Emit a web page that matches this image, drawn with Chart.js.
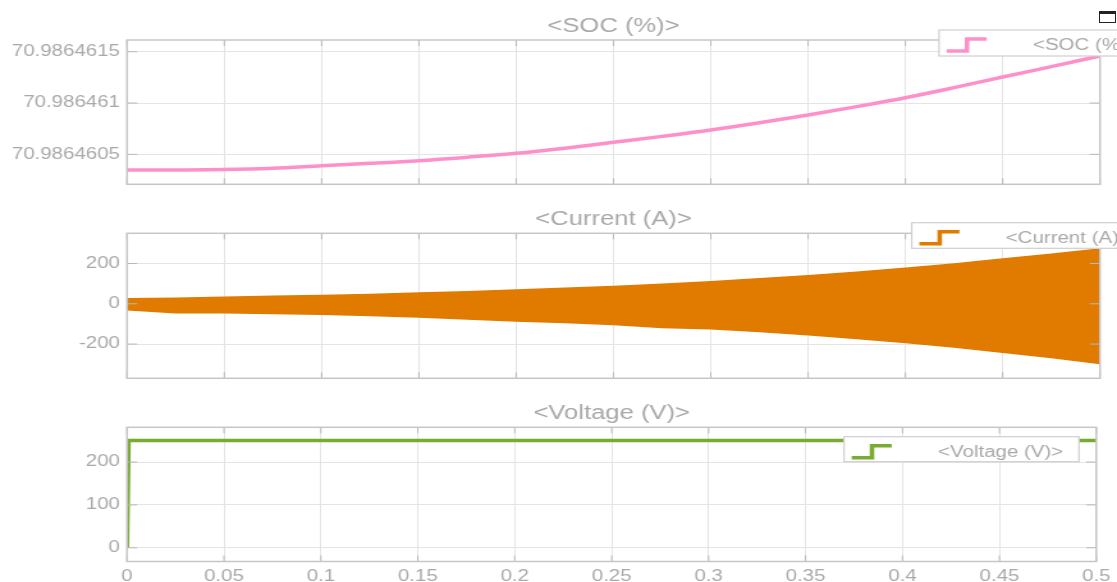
<!DOCTYPE html>
<html>
<head>
    <title>SOC / Current / Voltage</title>
    <script src="https://cdn.jsdelivr.net/npm/chart.js"></script>
    <style>
        body {
            margin: 0;
            background: #ffffff;
        }
        .panel {
            position: absolute;
            left: 0;
        }
        .dock-icon {
            position: absolute;
            left: 1099px;
            top: 11px;
            width: 15px;
            height: 8px;
            border: 1.5px solid #222;
            border-top-width: 3px;
            background: #fff;
        }
    </style>
</head>
<body>
    <div class="panel" style="top:0px">
        <canvas id="socChart" width="873" height="195" style="width:1117px;height:195px"></canvas>
    </div>
    <div class="panel" style="top:195px">
        <canvas id="currentChart" width="873" height="195" style="width:1117px;height:195px"></canvas>
    </div>
    <div class="panel" style="top:390px">
        <canvas id="voltageChart" width="873" height="192" style="width:1117px;height:192px"></canvas>
    </div>
    <div class="dock-icon"></div>
    <script>
        const timeTicks = [0, 0.05, 0.1, 0.15, 0.2, 0.25, 0.3, 0.35, 0.4, 0.45, 0.5];
        const timeTickLabels = ['0', '0.05', '0.1', '0.15', '0.2', '0.25', '0.3', '0.35', '0.4', '0.45', '0.5'];

        const socTime = [0, 0.025, 0.05, 0.075, 0.1, 0.125, 0.15, 0.175, 0.2, 0.225, 0.25,
                         0.275, 0.3, 0.325, 0.35, 0.375, 0.4, 0.425, 0.45, 0.475, 0.5];
        const socValues = [70.986460347, 70.986460348, 70.986460352, 70.986460365, 70.986460389,
                           70.986460412, 70.986460438, 70.986460472, 70.98646051, 70.98646056,
                           70.986460617, 70.986460675, 70.986460737, 70.986460808, 70.986460883,
                           70.986460965, 70.986461052, 70.98646115, 70.986461253, 70.986461355,
                           70.986461458];
        const socTicks = [70.9864605, 70.986461, 70.9864615];
        const socTickLabels = ['70.9864605', '70.986461', '70.9864615'];

        // current oscillates too fast to resolve, so the band is drawn from its envelope
        const currentTime = [0, 0.025, 0.05, 0.075, 0.1, 0.125, 0.15, 0.175, 0.2, 0.225, 0.25,
                             0.275, 0.3, 0.325, 0.35, 0.375, 0.4, 0.425, 0.45, 0.475, 0.5];
        const currentUpper = [25, 28, 33, 37, 41, 46, 53, 60, 69, 77, 86,
                              97, 110, 124, 139, 157, 177, 198, 222, 246, 272];
        const currentLower = [-30, -45, -45, -48, -52, -58, -65, -75, -86, -93, -103,
                              -118, -124, -138, -154, -172, -192, -215, -241, -267, -296];
        const currentTicks = [-200, 0, 200];
        const currentTickLabels = ['-200', '0', '200'];

        const voltageTime = [0, 0.0008, 0.5];
        const voltageValues = [0, 250, 250];
        const voltageTicks = [0, 100, 200];
        const voltageTickLabels = ['0', '100', '200'];

        const SX = 1117 / 873;
        const textColor = '#a9a9a9';
        const gridColor = '#e4e4e4';
        const fontFamily = '"Liberation Sans", Arial, sans-serif';

        Chart.defaults.font.family = fontFamily;
        Chart.defaults.color = textColor;

        const panelDecor = {
            id: 'panelDecor',
            afterDraw(chart, args, opts) {
                const ctx = chart.ctx;
                const a = chart.chartArea;
                const xs = chart.scales.x;
                const ys = chart.scales.y;
                ctx.save();

                ctx.strokeStyle = '#b8b8b8';
                ctx.lineWidth = 1;
                ctx.beginPath();
                xs.ticks.forEach(t => {
                    const px = xs.getPixelForValue(t.value);
                    ctx.moveTo(px, a.bottom);
                    ctx.lineTo(px, a.bottom - 6);
                    ctx.moveTo(px, a.top);
                    ctx.lineTo(px, a.top + 6);
                });
                ys.ticks.forEach(t => {
                    const py = ys.getPixelForValue(t.value);
                    ctx.moveTo(a.left, py);
                    ctx.lineTo(a.left + 8, py);
                    ctx.moveTo(a.right, py);
                    ctx.lineTo(a.right - 8, py);
                });
                ctx.stroke();

                ctx.strokeStyle = '#c6c6c6';
                ctx.lineWidth = 1.5;
                ctx.strokeRect(a.left, a.top, a.right - a.left, a.bottom - a.top);

                ctx.fillStyle = textColor;
                ctx.font = '20px ' + fontFamily;
                ctx.textAlign = 'center';
                ctx.textBaseline = 'middle';
                ctx.fillText(opts.title, (a.left + a.right) / 2, a.top - 13.5);

                const b = opts.legend;
                const x = b.x / SX;
                const w = b.w / SX;
                ctx.fillStyle = '#ffffff';
                ctx.fillRect(x, b.y, w, b.h);
                ctx.strokeStyle = '#cfcfcf';
                ctx.lineWidth = 1.2;
                ctx.strokeRect(x, b.y, w, b.h);

                ctx.strokeStyle = opts.color;
                ctx.lineWidth = 3.5;
                ctx.beginPath();
                ctx.moveTo(x + 7.7 / SX, b.y + 21);
                ctx.lineTo(x + 28 / SX, b.y + 21);
                ctx.lineTo(x + 28 / SX, b.y + 9);
                ctx.lineTo(x + 47.7 / SX, b.y + 9);
                ctx.stroke();

                ctx.fillStyle = textColor;
                ctx.font = '16px ' + fontFamily;
                ctx.textAlign = 'left';
                ctx.fillText(opts.title, x + 94 / SX, b.y + 15.5);
                ctx.restore();
            }
        };

        function toPoints(xs, ys) {
            return xs.map((t, i) => ({ x: t, y: ys[i] }));
        }

        function makePanel(id, p) {
            const ctx = document.getElementById(id).getContext('2d');
            return new Chart(ctx, {
                type: 'line',
                data: { datasets: p.datasets },
                plugins: [panelDecor],
                options: {
                    responsive: false,
                    animation: false,
                    events: [],
                    devicePixelRatio: 1,
                    layout: { padding: p.padding },
                    plugins: {
                        legend: { display: false },
                        tooltip: { enabled: false },
                        panelDecor: { title: p.title, color: p.color, legend: p.legend }
                    },
                    scales: {
                        x: {
                            type: 'linear',
                            min: 0,
                            max: 0.5,
                            afterBuildTicks: s => { s.ticks = timeTicks.map(v => ({ value: v })); },
                            afterFit: s => { s.height = p.xHeight; },
                            grid: { color: gridColor, lineWidth: 1, drawTicks: false },
                            border: { display: false },
                            ticks: {
                                display: p.showX,
                                padding: 5,
                                maxRotation: 0,
                                autoSkip: false,
                                font: { size: 16 },
                                color: textColor,
                                callback: (v, i) => timeTickLabels[i]
                            }
                        },
                        y: {
                            min: p.yMin,
                            max: p.yMax,
                            afterBuildTicks: s => { s.ticks = p.yTicks.map(v => ({ value: v })); },
                            afterFit: s => {
                                s.width = 127 / SX;
                                s.paddingTop = 0;
                                s.paddingBottom = 0;
                            },
                            grid: { color: gridColor, lineWidth: 1, drawTicks: false },
                            border: { display: false },
                            ticks: {
                                padding: 5.5,
                                font: { size: 16 },
                                color: textColor,
                                callback: (v, i) => p.yLabels[i]
                            }
                        }
                    }
                }
            });
        }

        document.addEventListener('DOMContentLoaded', function() {
            makePanel('socChart', {
                title: '<SOC (%)>',
                color: '#ff8fca',
                legend: { x: 939, y: 30, w: 190, h: 26 },
                padding: { top: 40, right: 13.3, bottom: 10.7, left: 0 },
                xHeight: 0,
                showX: false,
                yMin: 70.986460208,
                yMax: 70.986461614,
                yTicks: socTicks,
                yLabels: socTickLabels,
                datasets: [{
                    data: toPoints(socTime, socValues),
                    borderColor: '#ff8fca',
                    borderWidth: 3.5,
                    pointRadius: 0,
                    cubicInterpolationMode: 'monotone',
                    fill: false
                }]
            });

            makePanel('currentChart', {
                title: '<Current (A)>',
                color: '#e07b00',
                legend: { x: 911.7, y: 27.7, w: 220, h: 25.6 },
                padding: { top: 38.3, right: 13.3, bottom: 11.7, left: 0 },
                xHeight: 0,
                showX: false,
                yMin: -370,
                yMax: 350,
                yTicks: currentTicks,
                yLabels: currentTickLabels,
                datasets: [{
                    data: toPoints(currentTime, currentLower),
                    borderColor: '#e07b00',
                    borderWidth: 1.5,
                    pointRadius: 0,
                    fill: false
                }, {
                    data: toPoints(currentTime, currentUpper),
                    borderColor: '#e07b00',
                    borderWidth: 1.5,
                    backgroundColor: '#e07b00',
                    pointRadius: 0,
                    fill: '-1'
                }]
            });

            makePanel('voltageChart', {
                title: '<Voltage (V)>',
                color: '#77ac30',
                legend: { x: 844, y: 46.7, w: 235, h: 25 },
                padding: { top: 37.3, right: 13.3, bottom: 0, left: 0 },
                xHeight: 20.5,
                showX: true,
                yMin: -32,
                yMax: 281,
                yTicks: voltageTicks,
                yLabels: voltageTickLabels,
                datasets: [{
                    data: toPoints(voltageTime, voltageValues),
                    borderColor: '#77ac30',
                    borderWidth: 3.5,
                    pointRadius: 0,
                    fill: false
                }]
            });
        });
    </script>
</body>
</html>
